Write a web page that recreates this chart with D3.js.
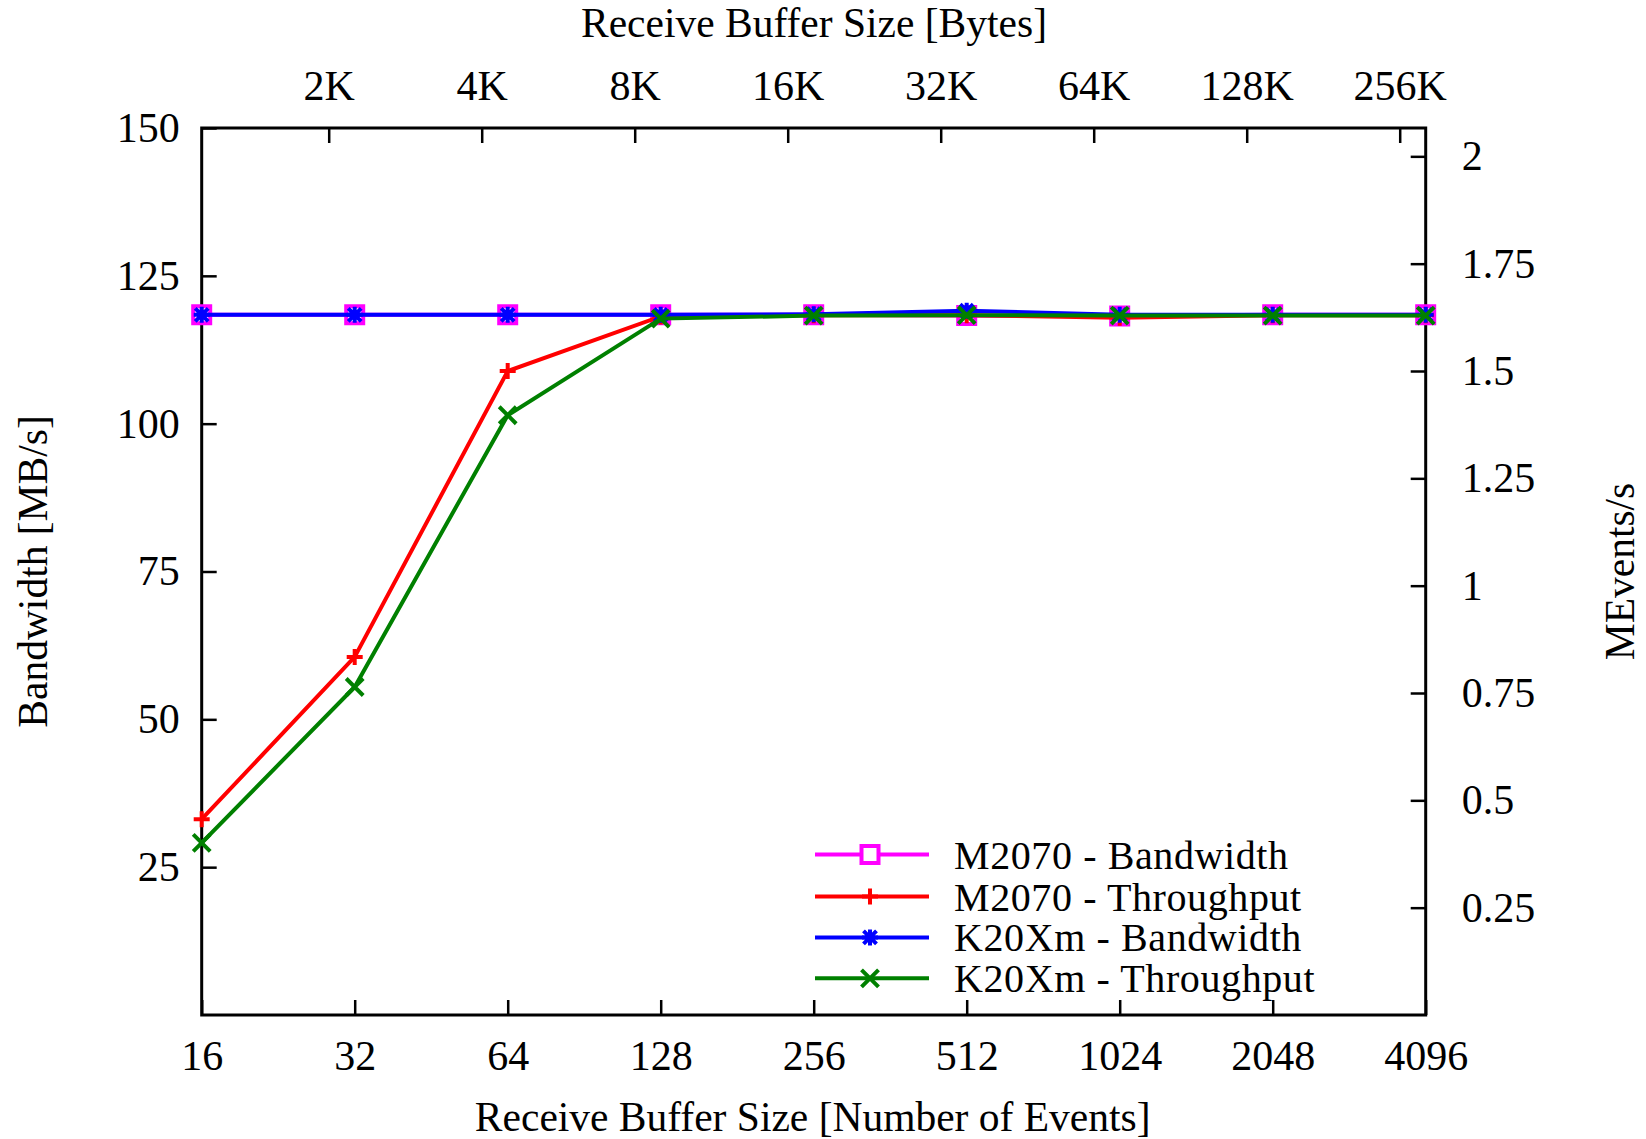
<!DOCTYPE html>
<html>
<head>
<meta charset="utf-8">
<script src="https://cdn.jsdelivr.net/npm/d3@7"></script>
<style>
  html, body { margin: 0; padding: 0; background: #fff; }
  svg text { font-family: "Liberation Serif", "Times New Roman", serif; fill: #000; }
</style>
</head>
<body>
<svg id="chart" width="1646" height="1139"></svg>
<script>
// Receive buffer sizes (number of events)
const bufferEvents = [16, 32, 64, 128, 256, 512, 1024, 2048, 4096];
// Bandwidth in MB/s (left axis)
const m2070Bandwidth = [118.4, 118.4, 118.4, 118.4, 118.4, 118.3, 118.2, 118.4, 118.4];
const k20Bandwidth   = [118.4, 118.4, 118.4, 118.4, 118.5, 119.1, 118.4, 118.4, 118.4];
// Throughput in MEvents/s (right axis)
const m2070Throughput = [0.456, 0.834, 1.500, 1.627, 1.630, 1.630, 1.624, 1.630, 1.630];
const k20Throughput   = [0.401, 0.764, 1.397, 1.622, 1.629, 1.630, 1.629, 1.629, 1.629];

// Tick values
const bottomTicks = [16, 32, 64, 128, 256, 512, 1024, 2048, 4096];
const topTicksBytes = [2048, 4096, 8192, 16384, 32768, 65536, 131072, 262144];
const leftTicks = [25, 50, 75, 100, 125, 150];
const rightTicks = [0.25, 0.5, 0.75, 1, 1.25, 1.5, 1.75, 2];
const bytesPerEvent = 72;

const series = [
  { name: "M2070 - Bandwidth",  values: m2070Bandwidth,  axis: "left",  color: "#ff00ff", marker: "square" },
  { name: "M2070 - Throughput", values: m2070Throughput, axis: "right", color: "#ff0000", marker: "plus" },
  { name: "K20Xm - Bandwidth",  values: k20Bandwidth,    axis: "left",  color: "#0000ff", marker: "star" },
  { name: "K20Xm - Throughput", values: k20Throughput,   axis: "right", color: "#008000", marker: "cross" }
];

const svg = d3.select("#chart");
const plot = { left: 201.7, right: 1425.7, top: 128, bottom: 1015 };
const tickFont = 42;
const textFont = 41.5;
const legendFont = 40;
const tickLen = 15;

const x = d3.scaleLog().base(2).domain([16, 4096]).range([plot.left, plot.right]);
const xBytes = d3.scaleLog().base(2)
  .domain([16 * bytesPerEvent, 4096 * bytesPerEvent]).range([plot.left, plot.right]);
const yLeft = d3.scaleLinear().domain([0, 150]).range([plot.bottom, plot.top]);
const yRight = d3.scaleLinear().domain([0, 2.066]).range([plot.bottom, plot.top]);

function styleAxis(g) {
  g.attr("font-family", null).attr("font-size", null);
  g.select(".domain").remove();
  g.selectAll(".tick line").attr("stroke", "#000").attr("stroke-width", 2.5);
  g.selectAll(".tick text").style("font-size", tickFont + "px")
    .style("font-family", "'Liberation Serif', serif");
}

// Bottom axis: number of events
svg.append("g").attr("transform", `translate(0,${plot.bottom})`)
  .call(d3.axisBottom(x).tickValues(bottomTicks).tickFormat(d => d)
    .tickSizeInner(-tickLen).tickSizeOuter(0).tickPadding(25))
  .call(styleAxis);

// Top axis: bytes
svg.append("g").attr("transform", `translate(0,${plot.top})`)
  .call(d3.axisTop(xBytes).tickValues(topTicksBytes).tickFormat(d => (d / 1024) + "K")
    .tickSizeInner(-tickLen).tickSizeOuter(0).tickPadding(28))
  .call(styleAxis);

// Left axis: MB/s
svg.append("g").attr("transform", `translate(${plot.left},0)`)
  .call(d3.axisLeft(yLeft).tickValues(leftTicks).tickFormat(d => d)
    .tickSizeInner(-tickLen).tickSizeOuter(0).tickPadding(22))
  .call(styleAxis);

// Right axis: MEvents/s
svg.append("g").attr("transform", `translate(${plot.right},0)`)
  .call(d3.axisRight(yRight).tickValues(rightTicks).tickFormat(d => String(d))
    .tickSizeInner(-tickLen).tickSizeOuter(0).tickPadding(36))
  .call(styleAxis);

// Frame
svg.append("rect")
  .attr("x", plot.left).attr("y", plot.top)
  .attr("width", plot.right - plot.left).attr("height", plot.bottom - plot.top)
  .attr("fill", "none").attr("stroke", "#000").attr("stroke-width", 3);

// Axis titles
svg.append("text").attr("x", (plot.left + plot.right) / 2 - 1).attr("y", 1131)
  .attr("text-anchor", "middle").style("font-size", textFont + "px")
  .text("Receive Buffer Size [Number of Events]");
svg.append("text").attr("x", 814).attr("y", 37)
  .attr("text-anchor", "middle").style("font-size", textFont + "px")
  .text("Receive Buffer Size [Bytes]");
svg.append("text")
  .attr("transform", `translate(47,${(plot.top + plot.bottom) / 2}) rotate(-90)`)
  .attr("text-anchor", "middle").style("font-size", textFont + "px")
  .text("Bandwidth [MB/s]");
svg.append("text")
  .attr("transform", `translate(1634,${(plot.top + plot.bottom) / 2}) rotate(-90)`)
  .attr("text-anchor", "middle").style("font-size", textFont + "px")
  .text("MEvents/s");

// Marker shapes
function markerPath(type) {
  const s = 8.5, p = 8, q = 6.5;
  switch (type) {
    case "square": return `M${-s},${-s}H${s}V${s}H${-s}Z`;
    case "plus": return `M${-p},0H${p}M0,${-p}V${p}`;
    case "cross": return `M${-s},${-s}L${s},${s}M${-s},${s}L${s},${-s}`;
    case "star": return `M${-p},0H${p}M0,${-p}V${p}M${-q},${-q}L${q},${q}M${-q},${q}L${q},${-q}`;
  }
}

const line = d3.line();

series.forEach(s => {
  const y = s.axis === "left" ? yLeft : yRight;
  const pts = bufferEvents.map((e, i) => [x(e), y(s.values[i])]);
  svg.append("path").datum(pts)
    .attr("d", line)
    .attr("fill", "none").attr("stroke", s.color).attr("stroke-width", 4)
    .attr("stroke-linejoin", "miter");
  svg.append("g").selectAll("path").data(pts).join("path")
    .attr("transform", d => `translate(${d[0]},${d[1]})`)
    .attr("d", markerPath(s.marker))
    .attr("fill", "none").attr("stroke", s.color).attr("stroke-width", 4);
});

// Legend
const legend = svg.append("g");
const legendRows = [854.5, 896.5, 937.4, 978.3];
series.forEach((s, i) => {
  const yy = legendRows[i];
  legend.append("line").attr("x1", 815).attr("x2", 929).attr("y1", yy).attr("y2", yy)
    .attr("stroke", s.color).attr("stroke-width", 4);
  legend.append("path").attr("transform", `translate(870,${yy})`)
    .attr("d", markerPath(s.marker))
    .attr("fill", s.marker === "square" ? "#fff" : "none")
    .attr("stroke", s.color).attr("stroke-width", 4);
  legend.append("text").attr("x", 954).attr("y", yy).attr("dy", "0.35em")
    .style("font-size", legendFont + "px").style("letter-spacing", "0.6px")
    .text(s.name);
});
</script>
</body>
</html>
